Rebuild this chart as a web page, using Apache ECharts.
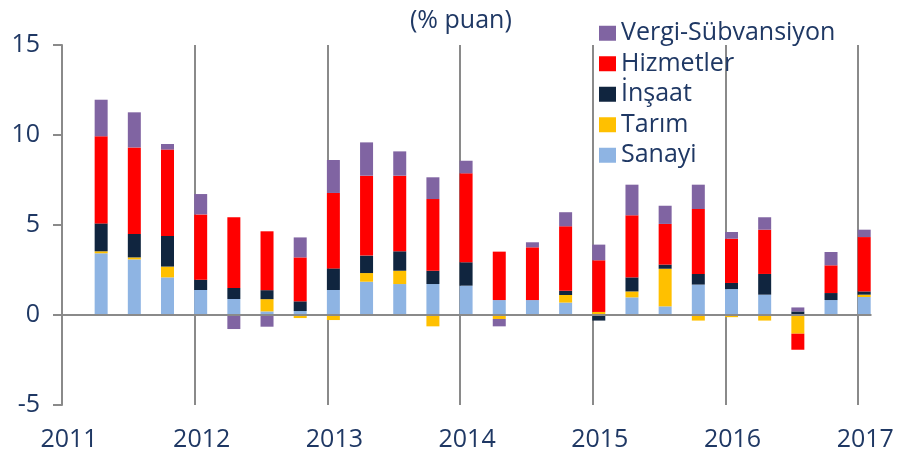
<!DOCTYPE html>
<html>
<head>
<meta charset="utf-8">
<script src="https://cdn.jsdelivr.net/npm/echarts@6/dist/echarts.min.js"></script>
<style>
html,body{margin:0;padding:0;background:#fff;}
#chart{width:901px;height:460px;}
</style>
</head>
<body>
<div id="chart"></div>
<script>
// Quarters shown (one bar each)
const quarters = ['2011Q2','2011Q3','2011Q4','2012Q1','2012Q2','2012Q3','2012Q4','2013Q1','2013Q2','2013Q3','2013Q4','2014Q1',
                  '2014Q2','2014Q3','2014Q4','2015Q1','2015Q2','2015Q3','2015Q4','2016Q1','2016Q2','2016Q3','2016Q4','2017Q1'];
const yearLabels = ['2011','2012','2013','2014','2015','2016','2017'];
const seriesNames = ['Sanayi','Tarım','İnşaat','Hizmetler','Vergi-Sübvansiyon'];
const sanayi   = [3.43,3.09,2.09,1.39,0.89,0.20,0.22,1.39,1.85,1.72,1.72,1.63,0.83,0.83,0.69,0.05,0.98,0.48,1.69,1.44,1.13,0.05,0.83,1.00];
const tarim    = [0.11,0.11,0.60,0.00,0.00,0.68,-0.17,-0.28,0.48,0.74,-0.63,0.00,-0.22,0.00,0.42,0.12,0.33,2.09,-0.31,-0.12,-0.31,-1.04,0.00,0.13];
const insaat   = [1.55,1.30,1.70,0.57,0.61,0.50,0.54,1.20,0.97,1.08,0.74,1.30,0.00,0.00,0.24,-0.31,0.78,0.23,0.59,0.34,1.15,0.15,0.39,0.18];
const hizmetler= [4.84,4.81,4.80,3.63,3.93,3.27,2.44,4.19,4.44,4.20,3.98,4.94,2.69,2.93,3.58,2.87,3.45,2.26,3.61,2.46,2.46,-0.89,1.54,3.02];
const vergi    = [2.03,1.95,0.31,1.13,-0.78,-0.65,1.11,1.83,1.85,1.35,1.21,0.70,-0.41,0.28,0.78,0.87,1.70,1.01,1.35,0.37,0.69,0.22,0.74,0.41];
const yTicks = [-5,0,5,10,15];

const colors = ['#8EB4E3','#FFC000','#10253F','#FF0000','#8064A2'];
const textColor = '#1F3864';
const font = 'Open Sans';
const BAR_SHIFT = 0.18; // bars drawn starting at the quarter tick
const firstYear = +yearLabels[0];

// quarter index counted from first year's Q1
const xPos = quarters.map(q => (+q.slice(0,4) - firstYear) * 4 + (+q.slice(5) - 1) + BAR_SHIFT);
const values = [sanayi, tarim, insaat, hizmetler, vergi];

// value first so that the y dimension is the stacked one
const series = values.map((arr, i) => ({
  name: seriesNames[i],
  type: 'bar',
  stack: 'total',
  barWidth: 13,
  itemStyle: { color: colors[i] },
  encode: { x: 1, y: 0 },
  data: arr.map((v, j) => [v, xPos[j]]),
  z: 2
}));
series.push({
  type: 'line', data: [], silent: true, z: 5,
  markLine: {
    silent: true, symbol: 'none', animation: false,
    label: { show: false },
    lineStyle: { color: '#8A8A8A', width: 2, type: 'solid' },
    data: [{ yAxis: 0 }]
  }
});

const chart = echarts.init(document.getElementById('chart'));
chart.setOption({
  animation: false,
  textStyle: { fontFamily: font },
  title: {
    text: '(% puan)', left: 405, top: 3,
    textStyle: { fontFamily: font, fontSize: 25, fontWeight: 'normal', color: textColor }
  },
  legend: {
    orient: 'vertical', left: 599, top: 18, padding: 0,
    itemWidth: 17, itemHeight: 15, itemGap: 0,
    icon: 'rect',
    data: seriesNames.slice().reverse(),
    textStyle: { fontFamily: font, fontSize: 25, color: textColor, lineHeight: 30.5 }
  },
  grid: { left: 62, right: 29.5, top: 45, bottom: 55, containLabel: false },
  xAxis: {
    type: 'value', min: 0, max: 24.4, interval: 4,
    axisLine: { show: false, onZero: false },
    axisTick: { show: false },
    splitLine: { show: true, showMaxLine: false, showMinLine: false, lineStyle: { color: '#8A8A8A', width: 2 } },
    axisLabel: {
      showMaxLabel: false,
      margin: 22, padding: [0,0,0,14],
      fontFamily: font, fontSize: 25, color: textColor,
      formatter: v => (Math.abs(v % 4) < 1e-9 ? String(firstYear + v / 4) : '')
    }
  },
  yAxis: {
    type: 'value', min: yTicks[0], max: yTicks[yTicks.length-1], interval: 5,
    axisLine: { show: true, lineStyle: { color: '#8A8A8A', width: 2 } },
    axisTick: { show: true, length: 9, lineStyle: { color: '#8A8A8A', width: 2 } },
    splitLine: { show: false },
    axisLabel: { margin: 22, fontFamily: font, fontSize: 25, color: textColor }
  },
  series: series
});
</script>
</body>
</html>
